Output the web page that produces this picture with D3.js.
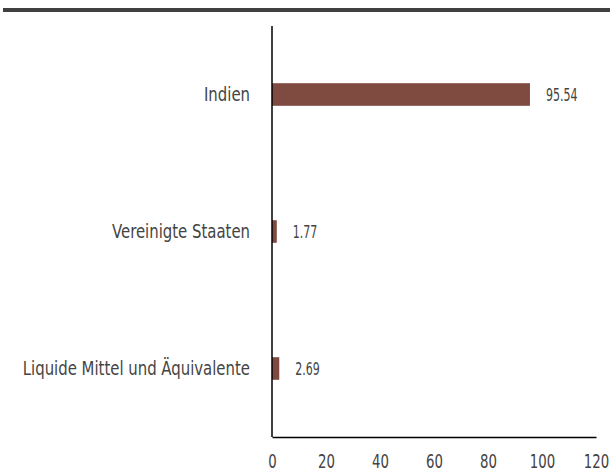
<!DOCTYPE html>
<html>
<head>
<meta charset="utf-8">
<script src="https://cdn.jsdelivr.net/npm/d3@7"></script>
<style>
  body { margin: 0; background: #fff; }
  svg text { font-family: "DejaVu Sans Condensed", "DejaVu Sans", sans-serif; fill: #444; }
</style>
</head>
<body>
<div id="chart"></div>
<script>
// données du graphique
const categories = ["Indien", "Vereinigte Staaten", "Liquide Mittel und Äquivalente"];
const values = [95.54, 1.77, 2.69];
const xTicks = [0, 20, 40, 60, 80, 100, 120];

const width = 610;
const height = 475;

const svg = d3.select("#chart")
  .append("svg")
  .attr("width", width)
  .attr("height", height);

// bande sombre en haut
svg.append("rect")
  .attr("x", 3)
  .attr("y", 8)
  .attr("width", width - 3)
  .attr("height", 4)
  .attr("fill", "#404040");

// échelles
const x = d3.scaleLinear()
  .domain([0, 120])
  .range([272, 596]);

const y = d3.scaleBand()
  .domain(categories)
  .range([26, 437])
  .paddingInner(0.835)
  .paddingOuter(0.4175);

// barres
svg.selectAll(".bar")
  .data(values)
  .enter()
  .append("rect")
  .attr("class", "bar")
  .attr("x", x(0))
  .attr("y", (d, i) => y(categories[i]))
  .attr("width", d => x(d) - x(0))
  .attr("height", y.bandwidth())
  .attr("fill", "#7f4a40");

// valeurs (police resserrée horizontalement)
svg.selectAll(".value")
  .data(values)
  .enter()
  .append("text")
  .attr("class", "value")
  .attr("transform", (d, i) => `translate(${x(d) + 16},${y(categories[i]) + y.bandwidth() / 2}) scale(0.72,1)`)
  .attr("dy", "0.36em")
  .style("font-size", "17px")
  .text(d => d);

// axe y
const yAxis = svg.append("g")
  .attr("transform", "translate(272, 0)")
  .call(d3.axisLeft(y).tickSize(0).tickPadding(0));
yAxis.select(".domain").attr("stroke", "#000").attr("stroke-width", 1.5).attr("d", "M0,26V437");
yAxis.selectAll("text")
  .attr("x", 0)
  .attr("transform", "translate(-22,0) scale(0.85,1)")
  .style("font-size", "19.5px")
  .attr("fill", "#444");

// axe x
const xAxis = svg.append("g")
  .attr("transform", "translate(0, 437)")
  .call(d3.axisBottom(x).tickValues(xTicks).tickSize(0).tickPadding(17));
xAxis.select(".domain").attr("stroke", "#000").attr("stroke-width", 1.5);
xAxis.selectAll("text")
  .attr("transform", "scale(0.74,1)")
  .style("font-size", "20px")
  .attr("fill", "#444");
</script>
</body>
</html>
